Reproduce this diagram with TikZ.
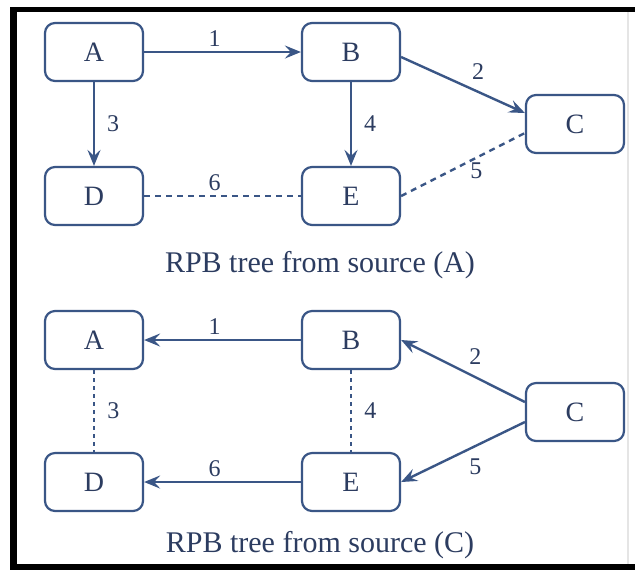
\documentclass[tikz,border=0pt]{standalone}
\usepackage{fontspec}
\setmainfont{Liberation Serif}
\usetikzlibrary{arrows.meta}

\definecolor{rpbline}{RGB}{58,86,134}
\definecolor{rpbtext}{RGB}{44,60,96}

\tikzset{
	router/.style = {draw=rpbline, line width=1.1pt, rounded corners=5pt,
		minimum width=49pt, minimum height=29pt, inner sep=0pt,
		text=rpbtext, font=\fontsize{14}{16}\selectfont},
	tree/.style = {draw=rpbline, line width=1.2pt,
		-{Stealth[length=8pt,width=6.5pt,inset=3pt]}},
	pruned/.style = {draw=rpbline, line width=1.2pt, dash pattern=on 3pt off 2.5pt},
	dotline/.style = {draw=rpbline, line width=1.4pt, dash pattern=on 2pt off 2pt},
	hop/.style = {text=rpbtext, font=\fontsize{12}{14}\selectfont, inner sep=2pt},
	caption/.style = {text=rpbtext, font=\fontsize{15}{17}\selectfont}
}

\begin{document}
\begin{tikzpicture}[x=0.5pt, y=-0.5pt]
	\useasboundingbox (0,0) rectangle (635,570);
	\fill[white] (0,0) rectangle (635,570);
	
	% frame
	\fill[black] (10,7) rectangle (635,12);
	\fill[black] (10,7) rectangle (17,570);
	\fill[black] (10,564) rectangle (635,570);
	\draw[black!10, line width=1pt] (628,12) -- (628,564);
	
	% tree from source A
	\node[router] (a1) at (94,52) {A};
	\node[router] (b1) at (351,52) {B};
	\node[router] (c1) at (575,124) {C};
	\node[router] (d1) at (94,196) {D};
	\node[router] (e1) at (351,196) {E};
	
	\draw[tree] (a1.east) -- (b1.west)
		node[hop, midway, above, xshift=-4pt] {1};
	\draw[tree] (a1.south) -- (d1.north)
		node[hop, midway, right, xshift=4pt] {3};
	\draw[tree] ([yshift=-2.5pt]b1.east) -- ([yshift=5.5pt]c1.west)
		node[hop, midway, above right, xshift=2pt] {2};
	\draw[tree] (b1.south) -- (e1.north)
		node[hop, midway, right, xshift=4pt] {4};
	\draw[pruned] (d1.east) -- (e1.west)
		node[hop, midway, above, xshift=-4pt] {6};
	\draw[pruned] (e1.east) -- ([yshift=-4.5pt]c1.west)
		node[hop, pos=0.55, below right, inner sep=0pt] {5};
	
	\node[caption] (cap1) at (320,265) {RPB tree from source (A)};
	
	% tree from source C
	\node[router] (a2) at (94,340) {A};
	\node[router] (b2) at (351,340) {B};
	\node[router] (c2) at (575,412) {C};
	\node[router] (d2) at (94,482) {D};
	\node[router] (e2) at (351,482) {E};
	
	\draw[tree] (b2.west) -- (a2.east)
		node[hop, midway, above, xshift=-4pt] {1};
	\draw[dotline] (a2.south) -- (d2.north)
		node[hop, midway, right, xshift=4pt] {3};
	\draw[dotline] (b2.south) -- (e2.north)
		node[hop, midway, right, xshift=4pt] {4};
	\draw[tree] ([yshift=5pt]c2.west) -- (b2.east)
		node[hop, pos=0.4, above, yshift=4pt] {2};
	\draw[tree] ([yshift=-5pt]c2.west) -- (e2.east)
		node[hop, pos=0.4, below, yshift=-4pt] {5};
	\draw[tree] (e2.west) -- (d2.east)
		node[hop, midway, above, xshift=-4pt] {6};
	
	\node[caption] (cap2) at (320,545) {RPB tree from source (C)};
\end{tikzpicture}
\end{document}
